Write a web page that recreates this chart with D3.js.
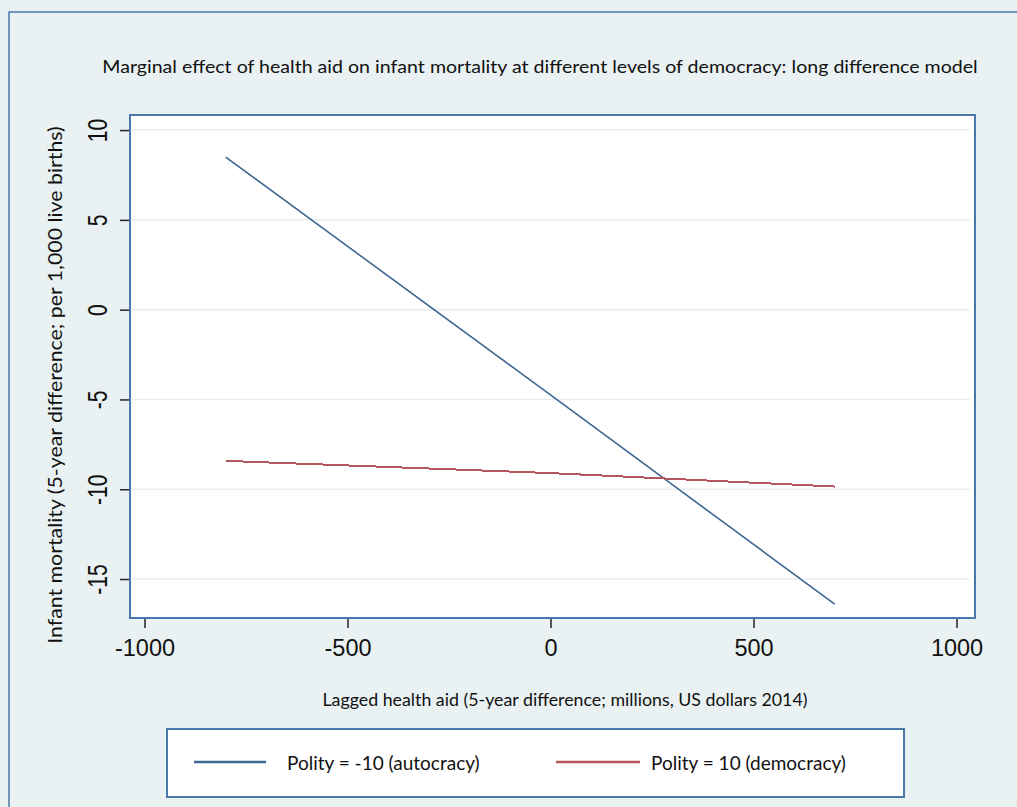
<!DOCTYPE html>
<html>
<head>
<meta charset="utf-8">
<script src="https://cdn.jsdelivr.net/npm/d3@7"></script>
<style>
  html, body { margin: 0; padding: 0; background: #e9f1f3; }
  svg { display: block; }
</style>
</head>
<body>
<svg id="chart" width="1017" height="807"></svg>
<script>
// ---- data ----
const titleText = "Marginal effect of health aid on infant mortality at different levels of democracy: long difference model";
const xTitle = "Lagged health aid (5-year difference; millions, US dollars 2014)";
const yTitle = "Infant mortality (5-year difference; per 1,000 live births)";
const xTicks = [-1000, -500, 0, 500, 1000];
const yTicks = [10, 5, 0, -5, -10, -15];
const aidValues = [-800, 0, 700];
const autocracyValues = [8.5, -4.75, -16.4];
const democracyValues = [-8.42, -9.1, -9.85];
const seriesNames = ["Polity = -10 (autocracy)", "Polity = 10 (democracy)"];
const seriesColors = ["#3d6892", "#b4565b"];

// ---- layout ----
const svg = d3.select("#chart");
const plot = { left: 130, top: 115, right: 975, bottom: 618 };

const x = d3.scaleLinear().domain([-1035.7, 1045.5]).range([plot.left, plot.right]);
const y = d3.scaleLinear().domain([10.84, -17.17]).range([plot.top, plot.bottom]);
const fmt = d => d < 0 ? "-" + Math.abs(d) : String(d);

// outer frame
svg.append("rect").attr("x", 9).attr("y", 12).attr("width", 1030).attr("height", 820)
  .attr("fill", "#e9f1f3").attr("stroke", "#4a78ab").attr("stroke-width", 1.5);

// title
svg.append("text").attr("transform", "translate(540,73) scale(1.12,1)").attr("text-anchor", "middle")
  .attr("font-family", "Lato, 'Open Sans', sans-serif").attr("font-size", 17.5)
  .attr("fill", "#111").text(titleText);

// plot background
svg.append("rect").attr("x", plot.left).attr("y", plot.top)
  .attr("width", plot.right - plot.left).attr("height", plot.bottom - plot.top)
  .attr("fill", "#ffffff");

// gridlines
svg.append("g").selectAll("line").data(yTicks).join("line")
  .attr("x1", plot.left + 2).attr("x2", plot.right - 5)
  .attr("y1", d => y(d)).attr("y2", d => y(d))
  .attr("stroke", "#e6eef2").attr("stroke-width", 1.5);

// lines
const lineGen = d3.line().x(d => x(d[0])).y(d => y(d[1]));
const series = [
  aidValues.map((v, i) => [v, autocracyValues[i]]),
  aidValues.map((v, i) => [v, democracyValues[i]])
];
svg.append("g").selectAll("path").data(series).join("path")
  .attr("d", lineGen).attr("fill", "none")
  .attr("stroke", (d, i) => seriesColors[i])
  .attr("stroke-width", (d, i) => i === 0 ? 1.6 : 2)
  .attr("shape-rendering", (d, i) => i === 0 ? "auto" : "crispEdges");

// plot border
svg.append("rect").attr("x", plot.left).attr("y", plot.top)
  .attr("width", plot.right - plot.left).attr("height", plot.bottom - plot.top)
  .attr("fill", "none").attr("stroke", "#4a78ab").attr("stroke-width", 2);

// x axis
const xAxis = d3.axisBottom(x).tickValues(xTicks).tickSize(9).tickPadding(11).tickFormat(fmt);
const gx = svg.append("g").attr("transform", `translate(0,${plot.bottom + 1})`).call(xAxis);
gx.select(".domain").remove();
gx.selectAll(".tick line").attr("stroke", "#222").attr("stroke-width", 1.5);
gx.selectAll(".tick text").attr("font-family", "'Liberation Sans', Arial, sans-serif")
  .attr("font-size", 23.5).attr("fill", "#111");

// y axis
const yAxis = d3.axisLeft(y).tickValues(yTicks).tickSize(9).tickPadding(0).tickFormat(fmt);
const gy = svg.append("g").attr("transform", `translate(${plot.left - 1},0)`).call(yAxis);
gy.select(".domain").remove();
gy.selectAll(".tick line").attr("stroke", "#222").attr("stroke-width", 1.5);
gy.selectAll(".tick text")
  .attr("font-family", "'Liberation Sans', Arial, sans-serif").attr("font-size", 27).attr("fill", "#111")
  .attr("x", null).attr("dy", null)
  .attr("text-anchor", "middle")
  .attr("transform", "translate(-31,0) rotate(-90) scale(0.78,1)")
  .attr("dominant-baseline", "central");

// axis titles
svg.append("text").attr("x", 565).attr("y", 706).attr("text-anchor", "middle")
  .attr("font-family", "Lato, 'Open Sans', sans-serif").attr("font-size", 17.8)
  .attr("fill", "#111").text(xTitle);

svg.append("text").attr("transform", "translate(62,385) rotate(-90) scale(1.065,1)").attr("text-anchor", "middle")
  .attr("font-family", "Lato, 'Open Sans', sans-serif").attr("font-size", 20)
  .attr("fill", "#111").text(yTitle);

// legend
svg.append("rect").attr("x", 167).attr("y", 729).attr("width", 737).attr("height", 68)
  .attr("fill", "#ffffff").attr("stroke", "#4a78ab").attr("stroke-width", 2);
const legendX = [[194, 266, 287], [556, 640, 651]];
const lg = svg.append("g").selectAll("g").data(seriesNames).join("g");
lg.append("line").attr("x1", (d, i) => legendX[i][0]).attr("x2", (d, i) => legendX[i][1])
  .attr("y1", 762).attr("y2", 762).attr("stroke", (d, i) => seriesColors[i]).attr("stroke-width", 2.5);
lg.append("text").attr("x", (d, i) => legendX[i][2]).attr("y", 770)
  .attr("font-family", "Lato, 'Open Sans', sans-serif").attr("font-size", 19)
  .attr("fill", "#111").text(d => d);
</script>
</body>
</html>
